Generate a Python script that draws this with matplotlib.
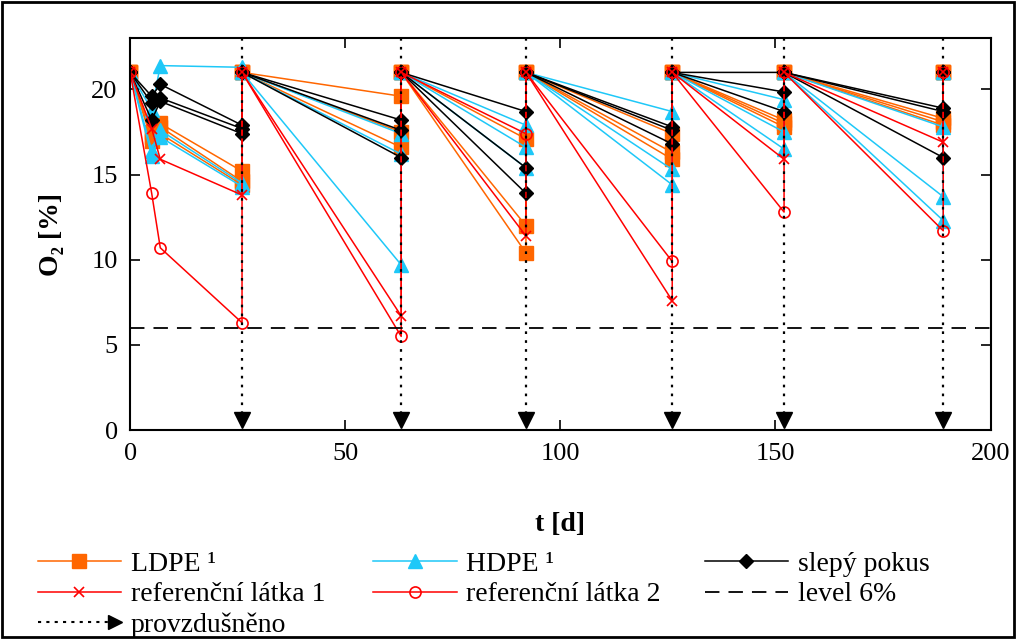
import matplotlib
matplotlib.use("Agg")
import matplotlib.pyplot as plt
from matplotlib.lines import Line2D
from matplotlib.legend_handler import HandlerLine2D
from matplotlib.patches import Rectangle

plt.rcParams['font.family'] = ['Liberation Serif', 'DejaVu Serif']
plt.rcParams['font.size'] = 19

# O2 po provzdušnění
o2_air = 21.0
# první dny měření, pak dny provzdušnění
start_days = [0, 5, 7]
aer_days = [26, 63, 92, 126, 152, 189]
level = 6.0

# hodnoty: den 5, den 7 | konec každého úseku (den 26 ... 189)
ldpe_early = [[17.5, 18.0], [17.2, 17.8], [17.0, 17.4]]
ldpe_ends = [[15.2, 19.6, 12.0, 17.4, 18.2, 18.3],
             [14.6, 16.6, 10.4, 16.3, 18.0, 18.1],
             [14.4, 17.5, 17.1, 15.9, 17.8, 17.9]]

hdpe_early = [[18.8, 21.4], [16.1, 17.2], [16.4, 17.6]]
hdpe_ends = [[21.3, 17.4, 17.9, 18.7, 19.4, 17.8],
             [14.3, 16.2, 16.6, 15.3, 17.5, 13.7],
             [14.5, 9.7, 15.4, 14.4, 16.5, 12.3]]

blank_early = [[19.6, 20.3], [19.2, 19.5], [18.2, 19.3]]
blank_ends = [[17.9, 18.2, 18.7, 17.8, 21.0, 18.9],
              [17.7, 16.0, 15.4, 17.6, 19.85, 18.7],
              [17.4, 17.6, 13.9, 16.8, 18.7, 16.0]]

ref1_early = [[17.7, 15.9]]
ref1_ends = [[13.8, 6.7, 11.4, 7.6, 15.9, 16.9]]

ref2_early = [[13.9, 10.7]]
ref2_ends = [[6.3, 5.5, 17.4, 9.9, 12.8, 11.7]]


def series_xy(early, ends):
    x = list(start_days)
    y = [o2_air] + list(early)
    for t, v in zip(aer_days, ends):
        x += [t, t]
        y += [v, o2_air]
    return x, y


class HandlerEndArrow(HandlerLine2D):
    # tečkovaná čára se šipkou na konci (legenda "provzdušněno")
    def create_artists(self, legend, orig_handle, xdescent, ydescent,
                       width, height, fontsize, trans):
        yc = height / 2 - ydescent
        ln = Line2D([-xdescent, -xdescent + width - 6], [yc, yc], color='k',
                    ls=(0, (1.5, 2.5)), lw=1.5, transform=trans)
        mk = Line2D([-xdescent + width - 4], [yc], marker='>', color='k',
                    ls='', ms=10, transform=trans)
        return [ln, mk]


fig = plt.figure(figsize=(10.17, 6.39), dpi=100)
ax = fig.add_axes([0.128, 0.327, 0.846, 0.613])

styles = [
    (ldpe_early, ldpe_ends, dict(color='#FF6600', marker='s', ms=10, lw=1.1)),
    (hdpe_early, hdpe_ends, dict(color='#1EC8F8', marker='^', ms=10, lw=1.1)),
    (blank_early, blank_ends, dict(color='k', marker='D', ms=7, lw=1.1)),
    (ref1_early, ref1_ends, dict(color='#FF0000', marker='x', ms=7, mew=1.2, lw=1.1)),
    (ref2_early, ref2_ends, dict(color='#FF0000', marker='o', ms=8, mfc='none', mew=1.2, lw=1.1)),
]
handles = []
for early, ends, st in styles:
    first = None
    for e, en in zip(early, ends):
        x, y = series_xy(e, en)
        ln, = ax.plot(x, y, **st)
        if first is None:
            first = ln
    handles.append(first)

lvl, = ax.plot([0, 200], [level, level], color='k', lw=1.3, dashes=(8, 5))
for t in aer_days:
    ax.plot([t, t], [23, 0.6], color='k', lw=1.6, ls=(0, (1.2, 2.8)))
ax.plot(aer_days, [0.6] * len(aer_days), 'v', color='k', ms=11, ls='')
aer_proxy = Line2D([], [], color='k', ls=':')

ax.set_xlim(0, 200)
ax.set_ylim(0, 23)
ax.set_xticks([0, 50, 100, 150, 200])
ax.set_yticks([0, 5, 10, 15, 20])
ax.tick_params(direction='in', length=7, width=1.2, top=True, right=True, pad=9)
for s in ax.spines.values():
    s.set_linewidth(1.5)
ax.set_xlabel('t [d]', fontweight='bold', fontsize=20, labelpad=34)
ax.set_ylabel('O₂ [%]', fontweight='bold', fontsize=20, labelpad=20)

leg_kw = dict(loc='upper left', frameon=False, borderpad=0, borderaxespad=0,
              handlelength=3.0, handletextpad=0.35, labelspacing=0.18, fontsize=20)
fig.legend([handles[0], handles[3], aer_proxy],
           ['LDPE ¹', 'referenční látka 1', 'provzdušněno'],
           bbox_to_anchor=(0.037, 0.137), handler_map={aer_proxy: HandlerEndArrow()},
           **leg_kw)
fig.legend([handles[1], handles[4]], ['HDPE ¹', 'referenční látka 2'],
           bbox_to_anchor=(0.367, 0.137), **leg_kw)
fig.legend([handles[2], lvl], ['slepý pokus', 'level 6%'],
           bbox_to_anchor=(0.693, 0.137), **leg_kw)

fig.add_artist(Rectangle((0.002, 0.003), 0.995, 0.994, transform=fig.transFigure,
                         fill=False, edgecolor='k', lw=2))

fig.savefig('out.png', dpi=100)
